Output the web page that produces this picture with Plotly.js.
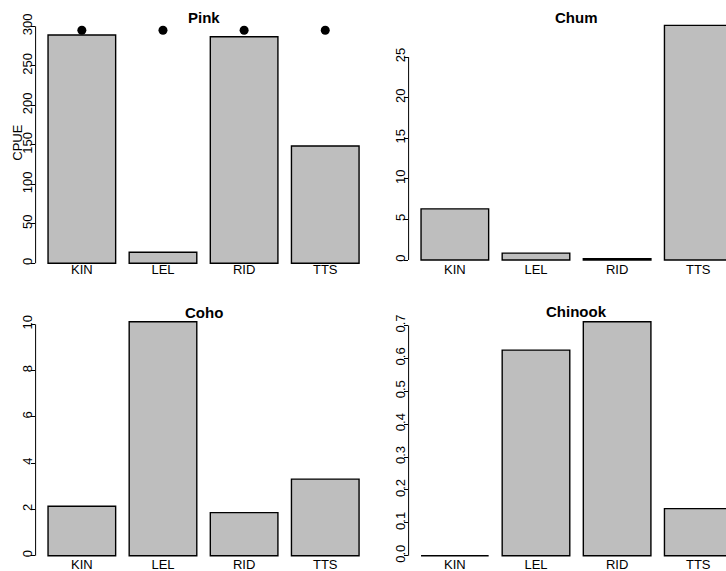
<!DOCTYPE html>
<html><head><meta charset="utf-8">
<script src="https://cdn.plot.ly/plotly-3.0.1.min.js"></script>
<style>html,body{margin:0;padding:0;background:#fff}</style>
</head><body><div id="chart" style="width:726px;height:571px"></div>
<script>
// ---- data ----
const sites = ['KIN', 'LEL', 'RID', 'TTS'];
const pinkCPUE = [289, 13.9, 286.8, 148.5];
const chumCPUE = [6.3, 0.85, 0.15, 28.9];
const cohoCPUE = [2.14, 10.11, 1.86, 3.31];
const chinookCPUE = [0, 0.625, 0.711, 0.143];
const pinkDots = [295, 295, 295, 295];
const pinkTicks = [0, 50, 100, 150, 200, 250, 300];
const chumTicks = [0, 5, 10, 15, 20, 25];
const cohoTicks = [0, 2, 4, 6, 8, 10];
const chinookTicks = [0, 0.1, 0.2, 0.3, 0.4, 0.5, 0.6, 0.7];
const chinookTickText = ['0.0', '0.1', '0.2', '0.3', '0.4', '0.5', '0.6', '0.7'];
const panelTitles = ['Pink', 'Chum', 'Coho', 'Chinook'];
const yTitle = 'CPUE';

// ---- geometry (pixels) ----
const W = 726, H = 571;
const fx = p => p / W;
const fy = p => 1 - p / H;
const unitPx = 335.9 / 4.14;
const panels = [
  {vals: pinkCPUE, ticks: pinkTicks, text: pinkTicks.map(String), xL: 35.6, xR: 371.5, yT: 20, yB: 266, zero: 263.3, ppu: 0.79, tY: 17.7, xs: -6},
  {vals: chumCPUE, ticks: chumTicks, text: chumTicks.map(String), xL: 408.6, xR: 726, yT: 20, yB: 266, zero: 260, ppu: 8.12, tY: 17.5, xs: -6},
  {vals: cohoCPUE, ticks: cohoTicks, text: cohoTicks.map(String), xL: 35.6, xR: 371.5, yT: 316, yB: 558, zero: 555.7, ppu: 23.14, tY: 312.7, xs: -3},
  {vals: chinookCPUE, ticks: chinookTicks, text: chinookTickText, xL: 408.6, xR: 726, yT: 316, yB: 558, zero: 555.7, ppu: 329, tY: 312, xs: -3}
];

const font = 'Liberation Sans, Arial, sans-serif';
const traces = [];
const layout = {
  width: W, height: H, margin: {l: 0, r: 0, t: 0, b: 0},
  paper_bgcolor: '#fff', plot_bgcolor: 'rgba(0,0,0,0)',
  showlegend: false, bargap: 1 / 6,
  font: {family: font, size: 13, color: '#000'},
  annotations: [], shapes: []
};

panels.forEach((p, i) => {
  const n = i + 1;
  const xa = 'x' + (n === 1 ? '' : n), ya = 'y' + (n === 1 ? '' : n);
  const xk = 'xaxis' + (n === 1 ? '' : n), yk = 'yaxis' + (n === 1 ? '' : n);
  traces.push({
    type: 'bar', x: sites, y: p.vals, xaxis: xa, yaxis: ya,
    marker: {color: '#bebebe', line: {color: '#000', width: 1.4}},
    hoverinfo: 'x+y'
  });
  const x0 = -0.57;
  const x1 = x0 + (p.xR - p.xL) / unitPx;
  layout[xk] = {
    domain: [fx(p.xL), fx(p.xR)], anchor: ya, type: 'category',
    categoryorder: 'array', categoryarray: sites,
    range: [x0, x1], showgrid: false, zeroline: false, showline: false,
    ticks: '', ticklabelstandoff: p.xs,
    tickfont: {family: font, size: 13, color: '#000'}
  };
  layout[yk] = {
    domain: [fy(p.yB), fy(p.yT)], anchor: xa,
    range: [-(p.yB - p.zero) / p.ppu, (p.zero - p.yT) / p.ppu],
    showgrid: false, zeroline: false, showline: false,
    tickmode: 'array', tickvals: p.ticks, ticktext: p.text,
    ticks: 'outside', ticklen: 4, tickwidth: 1, tickcolor: '#000',
    ticklabelstandoff: -7,
    tickangle: -90, tickfont: {family: font, size: 13, color: '#000'}
  };
  layout.shapes.push({
    type: 'line', xref: xa + ' domain', yref: ya,
    x0: 0, x1: 0, y0: p.ticks[0], y1: p.ticks[p.ticks.length - 1],
    line: {color: '#000', width: 1}
  });
  layout.annotations.push({
    text: '<b>' + panelTitles[i] + '</b>', xref: 'paper', yref: 'paper',
    x: fx((p.xL + p.xL + unitPx * 4.14) / 2), y: fy(p.tY),
    xanchor: 'center', yanchor: 'middle', showarrow: false,
    font: {family: font, size: 15, color: '#000'}
  });
});

traces.push({
  type: 'scatter', mode: 'markers', x: sites, y: pinkDots, xaxis: 'x', yaxis: 'y',
  marker: {color: '#000', size: 9}, cliponaxis: false, hoverinfo: 'x+y'
});

layout.annotations.push({
  text: yTitle, xref: 'paper', yref: 'paper', x: fx(16.7), y: fy(143),
  xanchor: 'center', yanchor: 'middle', textangle: -90, showarrow: false,
  font: {family: font, size: 13, color: '#000'}
});

Plotly.newPlot('chart', traces, layout, {staticPlot: true});
</script>
</body></html>
